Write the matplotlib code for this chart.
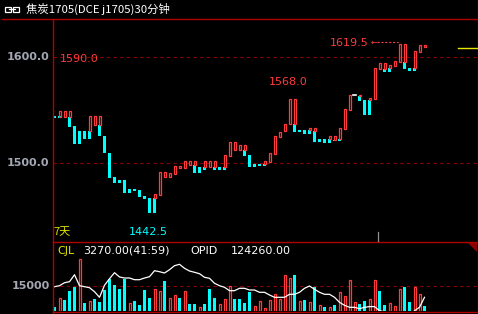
import matplotlib
matplotlib.use("Agg")
import matplotlib.pyplot as plt
from matplotlib.patches import Rectangle, Polygon

# ---- data ----
# candle bodies: slot index, open, close (several bodies can share one slot)
slot = [0, 1, 1, 2, 3, 3, 4, 5, 6, 7, 7, 8, 9, 9, 10, 11, 12, 13, 14, 15,
        16, 17, 18, 19, 20, 20, 21, 22, 23, 24, 25, 26, 27, 28, 28, 29, 30, 30,
        31, 32, 32, 33, 34, 34, 35, 36, 37, 38, 38, 39, 40, 41, 42, 42, 43, 44,
        45, 46, 47, 48, 48, 49, 50, 51, 51, 52, 52, 53, 54, 55, 55, 56, 56, 57,
        57, 58, 59, 60, 61, 61, 62, 63, 63, 64, 65, 66, 66, 67, 67, 68, 69, 70,
        70, 71, 72, 72, 73, 74]
opens = [1545, 1544, 1545, 1544, 1544, 1544, 1535, 1530.5, 1530.5, 1530.5, 1530.5,
         1536, 1536, 1536, 1526, 1510, 1487, 1484, 1484, 1476, 1476, 1475, 1469,
         1467.5, 1467.5, 1467.5, 1470, 1487, 1487, 1490, 1495.5, 1496, 1498.5,
         1498.5, 1498.5, 1496.5, 1496.5, 1496.5, 1496.5, 1496.5, 1496.5, 1496.5,
         1496.5, 1496.5, 1507, 1512.5, 1512.5, 1512.5, 1512.5, 1508, 1499.5,
         1499.5, 1499.5, 1499.5, 1501, 1509, 1525, 1530, 1537, 1537, 1537,
         1531.5, 1531.5, 1531.5, 1531.5, 1530.5, 1530.5, 1523, 1523, 1523, 1523,
         1522, 1522, 1523, 1523, 1532, 1550, 1564, 1563.5, 1563.5, 1559.5,
         1559.5, 1559.5, 1560.5, 1589, 1589, 1589, 1590, 1590, 1592, 1595.5,
         1595.5, 1595.5, 1590, 1590, 1590, 1605, 1609.5]
closes = [1543, 1549, 1543, 1549, 1549, 1534.5, 1518.5, 1518.5, 1523, 1544.5, 1523,
          1544.5, 1544.5, 1526, 1510, 1486.5, 1481.5, 1481.5, 1472, 1472, 1474,
          1468, 1466.5, 1453, 1471, 1453, 1492, 1492, 1491, 1497.5, 1497.5, 1502,
          1502, 1502, 1491, 1491, 1502, 1494, 1502, 1502, 1494, 1494, 1508, 1494,
          1520, 1520, 1517, 1517, 1507, 1496.5, 1496.5, 1497.5, 1502, 1497.5,
          1510, 1526, 1529.5, 1537, 1560.5, 1560.5, 1529.5, 1529.5, 1527.5,
          1533.5, 1527.5, 1533.5, 1520, 1520, 1519, 1526, 1519, 1526, 1521,
          1533.5, 1521, 1551, 1564.5, 1564, 1564.5, 1559, 1545.5, 1561.5, 1545.5,
          1590, 1594.5, 1594.5, 1586, 1592.5, 1586, 1596.5, 1612.5, 1612.5, 1589,
          1587, 1606, 1587, 1611.5, 1611.5]

# volume (CJL) per slot, colour flag 1 = red, 0 = cyan
vol = [2400, 7600, 6400, 11800, 14200, 31000, 4600, 5800, 7000, 5200, 12400,
       19000, 15400, 13000, 19000, 4600, 5800, 3400, 12400, 7600, 13000, 11800,
       17800, 7600, 9400, 7600, 11800, 4000, 4000, 2200, 4000, 13000, 7600, 4000,
       7000, 14800, 7000, 7000,
       4600, 11200, 2800, 5800, 1600, 6400, 10000, 7000, 21400, 19600, 21400,
       5800, 6400, 5200, 14200, 3400, 2200, 2200, 3400, 11200, 8800, 18400, 5200,
       4000, 5800, 7000, 18400, 11800, 3400, 4600, 2800, 13000, 14200, 5200,
       14200, 10000, 2800]
vol_up = [0, 1, 0, 0, 0, 1, 0, 1, 0, 0, 0, 0, 0, 0, 0, 1, 0, 0, 0, 0, 1, 1, 0, 1,
          1, 0, 1, 0, 0, 1, 0, 0, 0, 1, 1, 1, 0, 0,
          0, 0, 1, 1, 1, 1, 1, 1, 1, 1, 0, 1, 0, 1, 0, 1, 0, 1, 0, 1, 1, 1, 1, 0,
          0, 1, 1, 0, 0, 1, 1, 1, 0, 0, 1, 1, 0]

# open interest (OPID) per slot
opid = [125320, 125420, 125720, 125820, 126520, 125420, 125320, 125220, 124820,
        124260, 125460, 126120, 126720, 126290, 126190, 126190, 126020, 126020,
        126190, 126320, 126920, 126820, 126690, 127020, 127420, 127560, 127160,
        126890, 126760, 126620, 126260, 126160, 125660, 125420, 125260, 124920,
        124920, 125160,
        125160, 124990, 124990, 124760, 124760, 124490, 124260, 124260, 124260,
        124560, 124560, 124760, 125160, 125390, 125060, 124760, 124560, 124560,
        124260, 123760, 123460, 123260, 123260, 123120, 123260, 123330, 123330,
        122920, 122820, 122720, 122520, 122220, 122220, 122420, 122920, 123260,
        124260]

RED = "#ff3b3b"
CYAN = "#00ffff"
BORDER = "#b00000"
GRID = "#8c0000"
W, H = 478, 314


def fx(px):
    return px / W


def fy(py):
    return 1 - py / H


fig = plt.figure(figsize=(W / 100, H / 100), dpi=100, facecolor="black")

# price panel
ax = fig.add_axes([fx(52.5), fy(241), fx(476.5) - fx(52.5), fy(18.5) - fy(241)])
ax.set_facecolor("black")
ax.set_xlim(-0.4, 84.4)
ax.set_ylim(1426.7, 1636.6)
for s in ax.spines.values():
    s.set_visible(False)
ax.set_xticks([])
ax.set_yticks([])
for lv in [1500, 1600]:
    ax.axhline(lv, color=GRID, lw=0.8, ls=(0, (3, 3)), zorder=1)

for k, o, c in zip(slot, opens, closes):
    if c > o:
        ax.add_patch(Rectangle((k - 0.2, o), 0.4, c - o, facecolor="none",
                               edgecolor=RED, lw=0.9, zorder=3))
    elif c < o:
        ax.add_patch(Rectangle((k - 0.3, c), 0.6, o - c, facecolor=CYAN,
                               edgecolor="none", zorder=2))
    else:
        ax.plot([k - 0.3, k + 0.3], [o, o], color="white", lw=1.2, zorder=3)

# volume panel
axv = fig.add_axes([fx(52.5), fy(310.7), fx(476.5) - fx(52.5), fy(241) - fy(310.7)])
axv.set_facecolor("black")
axv.set_xlim(-0.4, 84.4)
axv.set_ylim(0, 41820)
for s in axv.spines.values():
    s.set_visible(False)
axv.set_xticks([])
axv.set_yticks([])
axv.axhline(15000, color=GRID, lw=0.8, ls=(0, (3, 3)), zorder=1)
xs = list(range(len(vol)))
for k, v, up in zip(xs, vol, vol_up):
    if up:
        axv.add_patch(Rectangle((k - 0.2, 0), 0.4, v, facecolor="none",
                                edgecolor=RED, lw=0.9, zorder=3))
    else:
        axv.add_patch(Rectangle((k - 0.3, 0), 0.6, v, facecolor=CYAN,
                                edgecolor="none", zorder=2))

axo = axv.twinx()
axo.set_ylim(122920, 129890)
axo.set_xlim(-0.4, 84.4)
for s in axo.spines.values():
    s.set_visible(False)
axo.set_yticks([])
axo.plot(xs, opid, color="white", lw=0.9, zorder=4)

# frame lines
def hline(y, x0, x1, color=BORDER, lw=1.0):
    fig.add_artist(plt.Line2D([fx(x0), fx(x1)], [fy(y), fy(y)], color=color, lw=lw))


def vline(x, y0, y1, color=BORDER, lw=1.0):
    fig.add_artist(plt.Line2D([fx(x), fx(x)], [fy(y0), fy(y1)], color=color, lw=lw))


hline(18.5, 2, 478)
hline(241.5, 52.5, 478)
hline(311.5, 52.5, 478)
vline(52.5, 18.5, 314)
vline(477.5, 0, 314)
vline(377.5, 232, 241, color="#909090", lw=0.9)
hline(47.5, 458, 477, color="#e6e600", lw=1.0)
fig.add_artist(Polygon([(fx(467), fy(241.5)), (fx(477), fy(241.5)), (fx(477), fy(252))],
                       closed=True, facecolor="#8c0000", edgecolor="none"))

# title bar
fig.add_artist(Rectangle((fx(5), fy(11.5)), fx(6), fy(7) - fy(11.5), facecolor="none",
                         edgecolor="white", lw=0.9))
fig.add_artist(Rectangle((fx(13), fy(11.5)), fx(6), fy(7) - fy(11.5), facecolor="none",
                         edgecolor="white", lw=0.9))
fig.add_artist(plt.Line2D([fx(9), fx(15)], [fy(9.3), fy(9.3)], color="white", lw=0.9))
fig.text(fx(26), fy(9), "焦炭1705(DCE j1705)30分钟", color="white", fontsize=8.2,
         family=["Noto Sans CJK SC", "DejaVu Sans"], va="center", ha="left")

# axis labels
lab = dict(color="#a4a8b4", fontsize=8, fontweight="bold", va="center", ha="right")
fig.text(fx(49.5), fy(57.5), "1600.0", **lab)
fig.text(fx(49.5), fy(163.3), "1500.0", **lab)
fig.text(fx(49.5), fy(286), "15000", **lab)

# annotations
ann = dict(fontsize=8, va="center", ha="left", family="DejaVu Sans")
fig.text(fx(60), fy(59.5), "1590.0", color=RED, **ann)
fig.text(fx(268.5), fy(82), "1568.0", color=RED, **ann)
fig.text(fx(330), fy(42.5), "1619.5", color=RED, **ann)
fig.text(fx(371), fy(42.5), "←", color=RED, fontsize=6, va="center", ha="left")
fig.add_artist(plt.Line2D([fx(377), fx(398)], [fy(42.3), fy(42.3)], color=RED, lw=0.8,
                          ls=(0, (2, 1.5))))
fig.text(fx(53), fy(232), "7天", color="#e6e600", fontsize=8,
         family=["Noto Sans CJK SC", "DejaVu Sans"], va="center", ha="left")
fig.text(fx(129), fy(232), "1442.5", color=CYAN, **ann)

fig.text(fx(57.5), fy(250.5), "CJL", color="#e6e600", **ann)
fig.text(fx(83), fy(250.5), "3270.00(41:59)", color="white", **ann)
fig.text(fx(190), fy(250.5), "OPID", color="white", **ann)
fig.text(fx(231), fy(250.5), "124260.00", color="white", **ann)

fig.savefig("out.png", dpi=100, facecolor="black")
